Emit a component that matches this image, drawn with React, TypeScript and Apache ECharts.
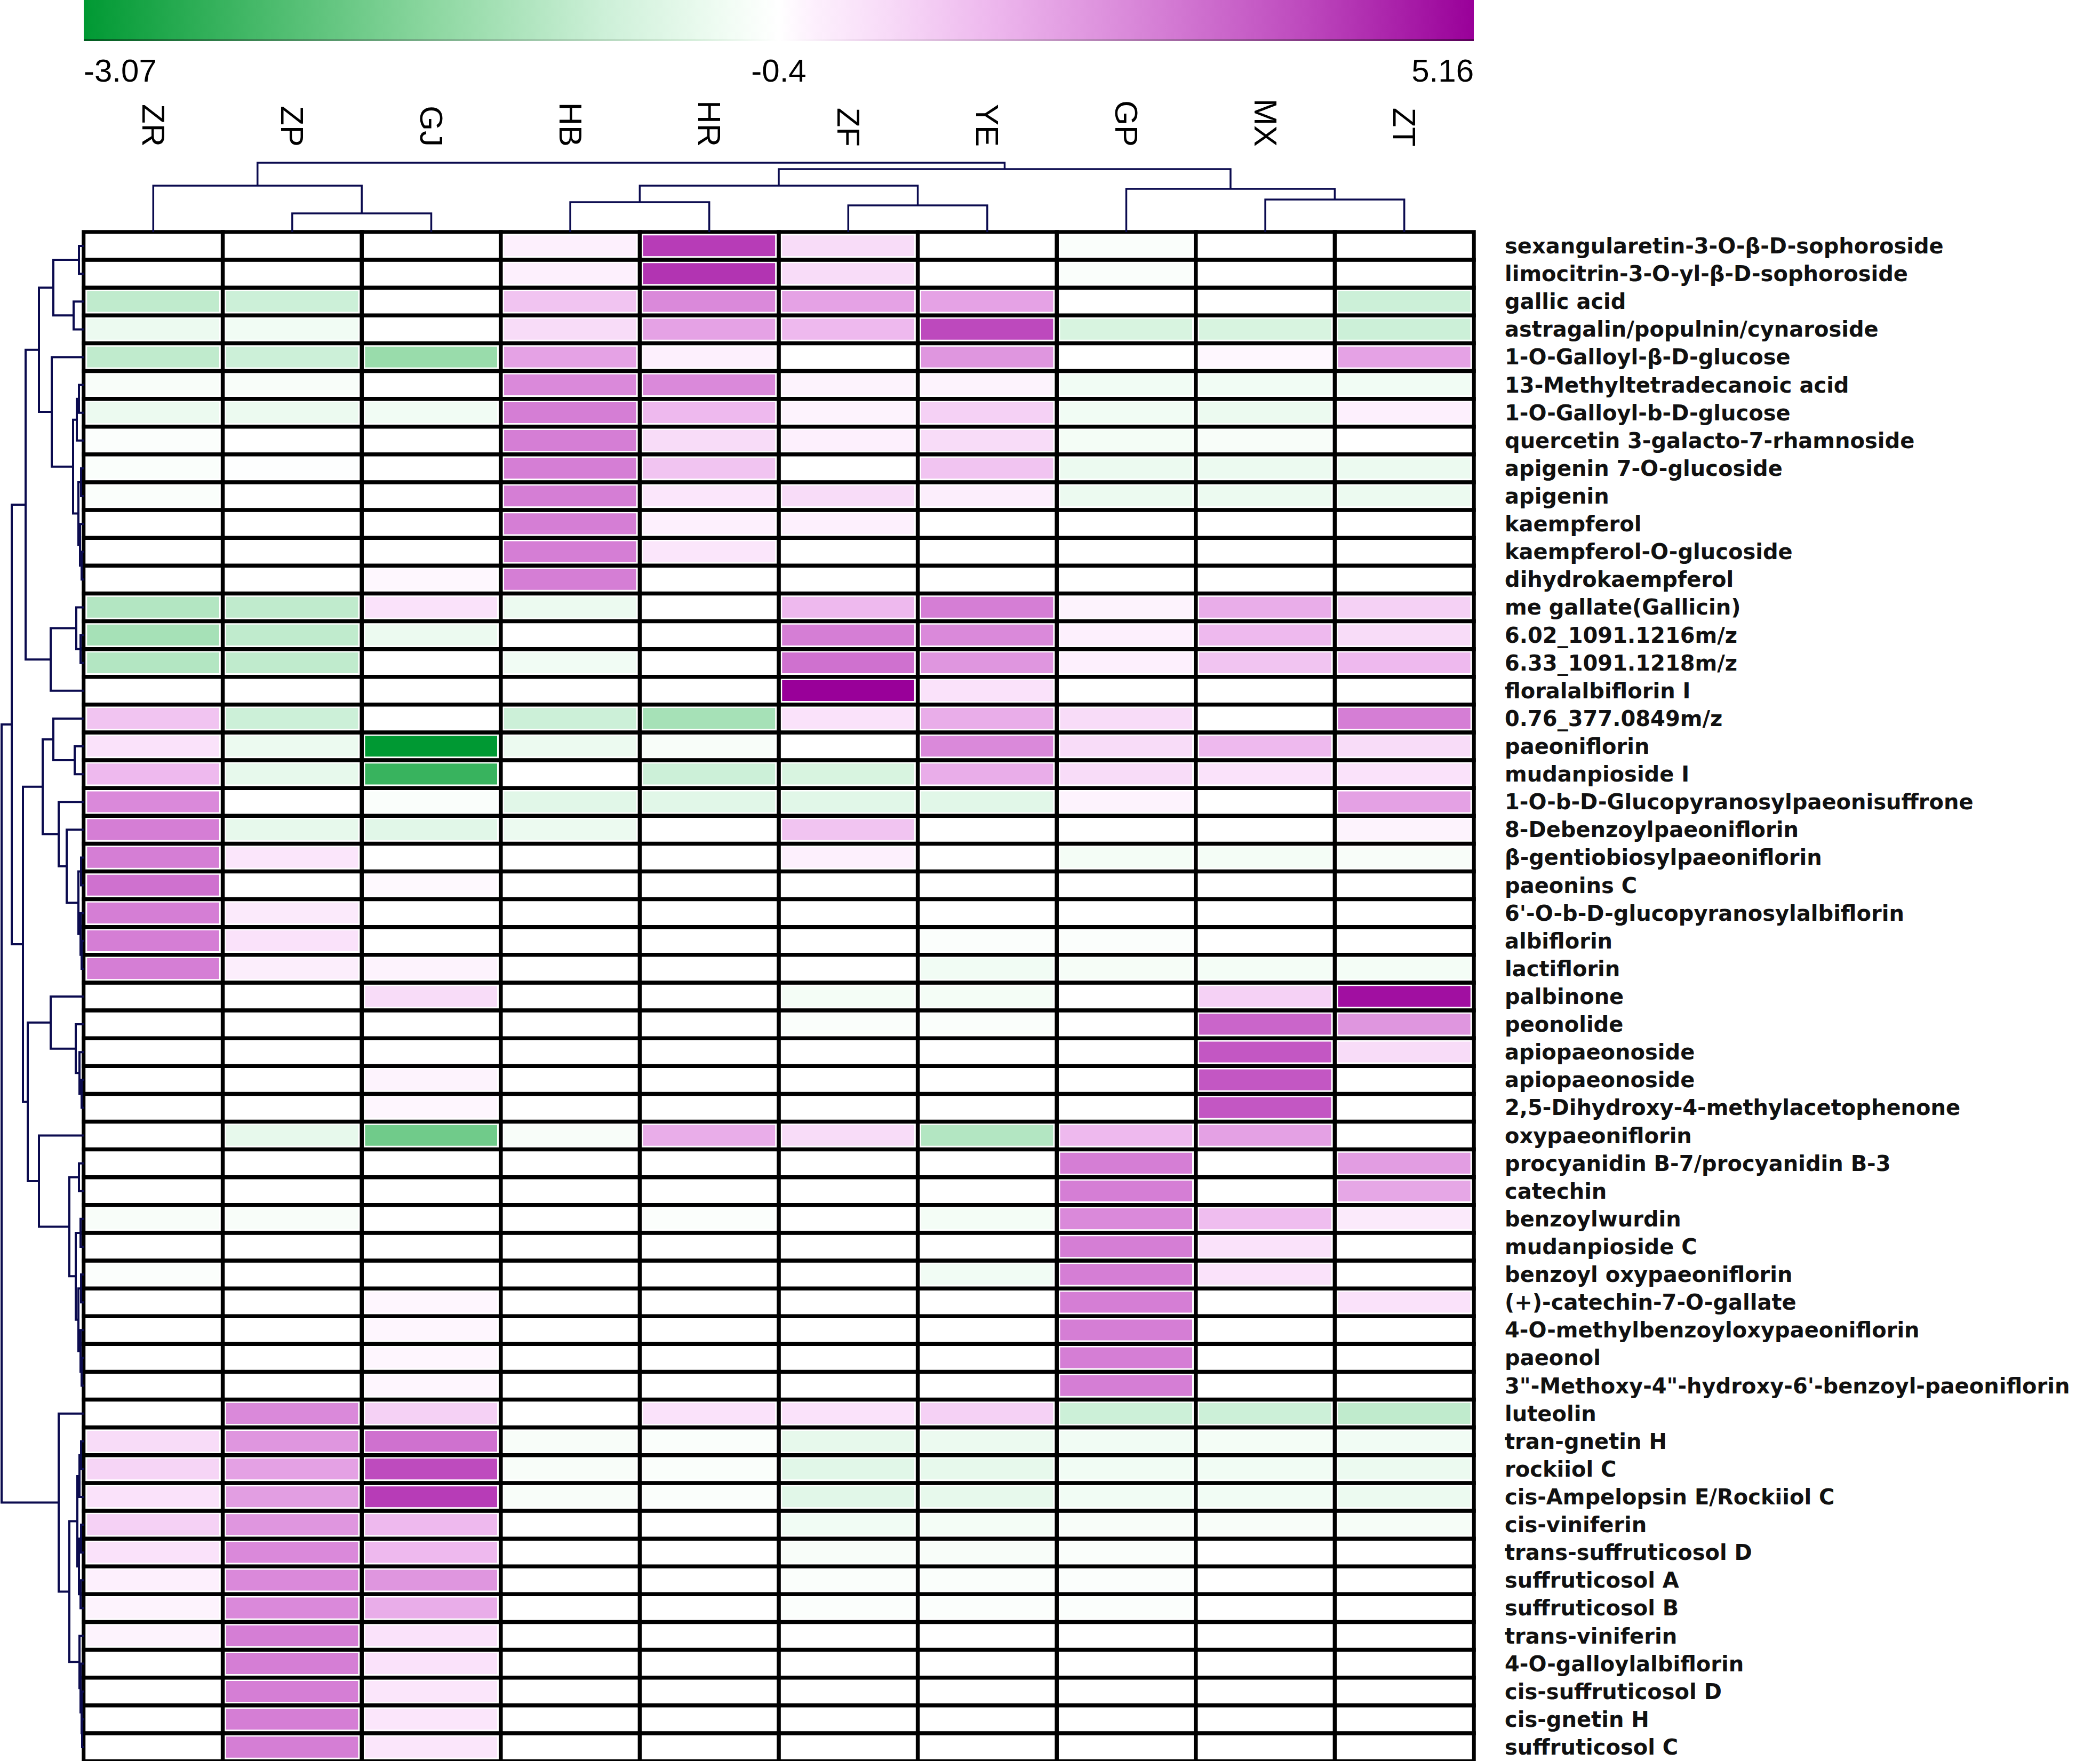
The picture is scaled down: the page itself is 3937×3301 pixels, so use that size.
import React, { useEffect, useRef } from "react";
import * as echarts from "echarts";

// ---------------- data ----------------
const samples = ["ZR", "ZP", "GJ", "HB", "HR", "ZF", "YE", "GP", "MX", "ZT"];

const compounds = [
  "sexangularetin-3-O-β-D-sophoroside",
  "limocitrin-3-O-yl-β-D-sophoroside",
  "gallic acid",
  "astragalin/populnin/cynaroside",
  "1-O-Galloyl-β-D-glucose",
  "13-Methyltetradecanoic acid",
  "1-O-Galloyl-b-D-glucose",
  "quercetin 3-galacto-7-rhamnoside",
  "apigenin 7-O-glucoside",
  "apigenin",
  "kaempferol",
  "kaempferol-O-glucoside",
  "dihydrokaempferol",
  "me gallate(Gallicin)",
  "6.02_1091.1216m/z",
  "6.33_1091.1218m/z",
  "floralalbiflorin I",
  "0.76_377.0849m/z",
  "paeoniflorin",
  "mudanpioside I",
  "1-O-b-D-Glucopyranosylpaeonisuffrone",
  "8-Debenzoylpaeoniflorin",
  "β-gentiobiosylpaeoniflorin",
  "paeonins C",
  "6'-O-b-D-glucopyranosylalbiflorin",
  "albiflorin",
  "lactiflorin",
  "palbinone",
  "peonolide",
  "apiopaeonoside",
  "apiopaeonoside",
  "2,5-Dihydroxy-4-methylacetophenone",
  "oxypaeoniflorin",
  "procyanidin B-7/procyanidin B-3",
  "catechin",
  "benzoylwurdin",
  "mudanpioside C",
  "benzoyl oxypaeoniflorin",
  "(+)-catechin-7-O-gallate",
  "4-O-methylbenzoyloxypaeoniflorin",
  "paeonol",
  "3\"-Methoxy-4\"-hydroxy-6'-benzoyl-paeoniflorin",
  "luteolin",
  "tran-gnetin H",
  "rockiiol C",
  "cis-Ampelopsin E/Rockiiol C",
  "cis-viniferin",
  "trans-suffruticosol D",
  "suffruticosol A",
  "suffruticosol B",
  "trans-viniferin",
  "4-O-galloylalbiflorin",
  "cis-suffruticosol D",
  "cis-gnetin H",
  "suffruticosol C",
];

const ZR = [
  -0.4, -0.4, -1.2, -0.67, -1.2, -0.5, -0.67, -0.45, -0.48, -0.48,
  -0.4, -0.4, -0.4, -1.33, -1.47, -1.33, -0.4, 1.0, 0.27, 1.27,
  2.4, 2.66, 2.66, 2.94, 2.66, 2.66, 2.66, -0.4, -0.4, -0.4,
  -0.4, -0.4, -0.4, -0.4, -0.4, -0.5, -0.4, -0.45, -0.4, -0.4,
  -0.4, -0.4, -0.4, 0.43, 0.6, 0.27, 0.7, 0.27, -0.12, -0.18,
  -0.18, -0.4, -0.4, -0.4, -0.4,
];
const ZP = [
  -0.4, -0.4, -1.07, -0.6, -1.07, -0.5, -0.67, -0.4, -0.42, -0.4,
  -0.4, -0.4, -0.4, -1.2, -1.2, -1.2, -0.4, -1.07, -0.67, -0.72,
  -0.4, -0.72, 0.16, -0.4, 0.05, 0.27, -0.07, -0.4, -0.4, -0.4,
  -0.4, -0.4, -0.72, -0.4, -0.4, -0.5, -0.4, -0.4, -0.4, -0.4,
  -0.4, -0.4, 2.4, 2.1, 1.82, 1.9, 2.1, 2.4, 2.4, 2.4,
  2.66, 2.66, 2.66, 2.66, 2.66,
];
const GJ = [
  -0.4, -0.4, -0.4, -0.4, -1.6, -0.4, -0.6, -0.4, -0.4, -0.4,
  -0.4, -0.4, -0.25, 0.27, -0.67, -0.4, -0.4, -0.4, -3.07, -2.54,
  -0.48, -0.8, -0.4, -0.3, -0.4, -0.4, -0.18, 0.43, -0.4, -0.4,
  -0.18, -0.23, -2.0, -0.4, -0.4, -0.4, -0.4, -0.4, -0.23, -0.23,
  -0.23, -0.23, 0.7, 2.94, 3.77, 4.05, 1.27, 1.27, 2.1, 1.55,
  0.27, 0.27, 0.16, 0.16, 0.16,
];
const HB = [
  -0.12, -0.12, 1.0, 0.43, 1.8, 2.4, 2.66, 2.66, 2.66, 2.66,
  2.66, 2.66, 2.66, -0.67, -0.4, -0.6, -0.4, -1.07, -0.67, -0.4,
  -0.8, -0.67, -0.4, -0.4, -0.4, -0.4, -0.4, -0.4, -0.4, -0.4,
  -0.4, -0.4, -0.5, -0.4, -0.4, -0.4, -0.4, -0.4, -0.4, -0.4,
  -0.4, -0.4, -0.4, -0.5, -0.5, -0.5, -0.4, -0.4, -0.4, -0.4,
  -0.4, -0.4, -0.4, -0.4, -0.4,
];
const HR = [
  4.05, 4.2, 2.4, 1.8, -0.12, 2.4, 1.27, 0.43, 1.0, 0.16,
  -0.12, 0.16, -0.4, -0.4, -0.4, -0.4, -0.4, -1.47, -0.5, -1.07,
  -0.8, -0.4, -0.4, -0.4, -0.4, -0.4, -0.4, -0.4, -0.4, -0.4,
  -0.4, -0.4, 1.55, -0.4, -0.4, -0.45, -0.4, -0.4, -0.4, -0.4,
  -0.4, -0.4, 0.27, -0.48, -0.48, -0.48, -0.4, -0.4, -0.4, -0.4,
  -0.4, -0.4, -0.4, -0.4, -0.4,
];
const ZF = [
  0.43, 0.43, 1.8, 1.27, -0.4, -0.18, -0.18, -0.12, -0.4, 0.43,
  -0.12, -0.4, -0.4, 1.27, 2.66, 2.94, 5.16, 0.27, -0.4, -0.93,
  -0.8, 1.0, -0.12, -0.4, -0.4, -0.4, -0.4, -0.56, -0.48, -0.4,
  -0.4, -0.4, 0.43, -0.4, -0.4, -0.4, -0.4, -0.4, -0.4, -0.4,
  -0.4, -0.4, 0.27, -0.72, -0.8, -0.8, -0.6, -0.5, -0.48, -0.45,
  -0.4, -0.4, -0.4, -0.4, -0.4,
];
const YE = [
  -0.4, -0.4, 1.8, 3.8, 2.1, -0.18, 0.7, 0.43, 1.0, -0.07,
  -0.4, -0.4, -0.4, 2.66, 2.4, 2.1, 0.27, 1.55, 2.4, 1.55,
  -0.8, -0.4, -0.4, -0.4, -0.4, -0.45, -0.6, -0.56, -0.48, -0.4,
  -0.4, -0.4, -1.33, -0.4, -0.4, -0.56, -0.4, -0.6, -0.4, -0.4,
  -0.4, -0.4, 0.7, -0.67, -0.72, -0.72, -0.56, -0.5, -0.48, -0.45,
  -0.4, -0.4, -0.4, -0.4, -0.4,
];
const GP = [
  -0.48, -0.48, -0.4, -0.93, -0.4, -0.6, -0.6, -0.56, -0.67, -0.67,
  -0.4, -0.4, -0.4, -0.18, -0.12, -0.12, -0.4, 0.43, 0.43, 0.43,
  -0.18, -0.4, -0.56, -0.4, -0.4, -0.45, -0.53, -0.4, -0.4, -0.4,
  -0.4, -0.4, 1.27, 2.66, 2.66, 2.4, 2.66, 2.66, 2.66, 2.66,
  2.66, 2.66, -1.07, -0.6, -0.6, -0.6, -0.5, -0.48, -0.45, -0.45,
  -0.4, -0.4, -0.4, -0.4, -0.4,
];
const MX = [
  -0.4, -0.4, -0.4, -0.93, -0.25, -0.6, -0.67, -0.5, -0.67, -0.67,
  -0.4, -0.4, -0.4, 1.55, 1.27, 1.0, -0.4, -0.4, 1.27, 0.27,
  -0.4, -0.4, -0.56, -0.4, -0.4, -0.4, -0.56, 0.7, 3.2, 3.5,
  3.5, 3.5, 1.82, -0.4, -0.4, 1.16, 0.27, 0.27, -0.4, -0.4,
  -0.4, -0.4, -1.07, -0.56, -0.6, -0.6, -0.5, -0.4, -0.4, -0.4,
  -0.4, -0.4, -0.4, -0.4, -0.4,
];
const ZT = [
  -0.4, -0.4, -1.07, -1.07, 1.8, -0.6, -0.12, -0.4, -0.67, -0.67,
  -0.4, -0.4, -0.4, 0.7, 0.43, 1.27, -0.4, 2.66, 0.43, 0.27,
  1.82, -0.18, -0.5, -0.4, -0.4, -0.4, -0.56, 4.88, 2.1, 0.43,
  -0.4, -0.4, -0.4, 1.93, 1.7, 0.04, -0.4, -0.4, 0.27, -0.4,
  -0.4, -0.4, -1.2, -0.6, -0.67, -0.67, -0.53, -0.4, -0.4, -0.4,
  -0.4, -0.4, -0.4, -0.4, -0.4,
];
const sampleValues = [ZR, ZP, GJ, HB, HR, ZF, YE, GP, MX, ZT];

const scaleMin = -3.07;
const scaleMid = -0.4;
const scaleMax = 5.16;
const scaleLabels = ["-3.07", "-0.4", "5.16"];

// dendrograms: [merge height, left, right]; leaves are indices
type Tree = number | [number, Tree, Tree];
const sampleTree: Tree = [130, [87, 0, [35, 1, 2]], [118, [87, [56, 3, 4], [50, 5, 6]], [81, 7, [61, 8, 9]]]];
const compoundTree: Tree = [154,
  [135,
    [109,
      [84,
        [57, [9, 0, 1], [19, 2, 3]],
        [60, 4, [20, [13, [9, 5, 6], 7], [10, [5, 8, 9], [7, 10, [4, 11, 12]]]]]],
      [62, [14, 13, [6, 14, 15]], 16]],
    [114,
      [77,
        [57, 17, [17, 18, 19]],
        [47, 20, [32, 21, [10, [5, 22, 23], [6, 24, [4, 25, 26]]]]]],
      [105,
        [62, 27, [15, 28, [8, 29, [4, 30, 31]]]],
        [84, 32, [27, [9, 33, 34], [15, [6, 35, 36], [10, [5, 37, 38], [6, 39, [4, 40, 41]]]]]]]]],
  [47, 42, [27, [12, [8, [5, 43, 44], 45], [9, [5, 46, 47], [6, 48, 49]]], [8, 50, [6, 51, [4, 52, [3, 53, 54]]]]]]];

// ---------------- style ----------------
const PAGE_W = 3937;
const PAGE_H = 3301;
const HM_LEFT = 157;
const HM_TOP = 435;
const HM_W = 2606;
const HM_H = 2866;
const COL_DENDRO_TOP = 290;
const ROW_DENDRO_MAX = 157;
const COL_DENDRO_MAX = 145;
const LINE_COLOR = "#0b0b4f";

const greenStops: [number, number[]][] = [
  [0, [255, 255, 255]], [0.08, [240, 252, 243]], [0.25, [205, 240, 216]],
  [0.5, [140, 215, 160]], [0.75, [70, 185, 105]], [1, [0, 153, 51]],
];
const purpleStops: [number, number[]][] = [
  [0, [255, 255, 255]], [0.05, [253, 240, 253]], [0.15, [248, 220, 248]],
  [0.3, [238, 185, 238]], [0.5, [218, 138, 218]], [0.75, [190, 75, 190]], [1, [153, 0, 153]],
];

function interp(stops: [number, number[]][], t: number): string {
  t = Math.max(0, Math.min(1, t));
  for (let i = 1; i < stops.length; i++) {
    if (t <= stops[i][0]) {
      const [t0, c0] = stops[i - 1];
      const [t1, c1] = stops[i];
      const f = (t - t0) / (t1 - t0);
      const c = c0.map((v, k) => Math.round(v + (c1[k] - v) * f));
      return `rgb(${c[0]},${c[1]},${c[2]})`;
    }
  }
  const c = stops[stops.length - 1][1];
  return `rgb(${c[0]},${c[1]},${c[2]})`;
}

function colorFor(v: number): string {
  if (v <= scaleMid) return interp(greenStops, (scaleMid - v) / (scaleMid - scaleMin));
  return interp(purpleStops, (v - scaleMid) / (scaleMax - scaleMid));
}

function layoutTree(node: Tree, segs: number[][][]): [number, number] {
  if (typeof node === "number") return [node + 0.5, 0];
  const [h, l, r] = node;
  const [pl, hl] = layoutTree(l, segs);
  const [pr, hr] = layoutTree(r, segs);
  segs.push([[pl, hl], [pl, h], [pr, h], [pr, hr]]);
  return [(pl + pr) / 2, h];
}

export default function App() {
  const ref = useRef<HTMLDivElement>(null);

  useEffect(() => {
    if (!ref.current) return;
    const chart = echarts.init(ref.current, undefined, { renderer: "svg" });

    const heatData: number[][] = [];
    sampleValues.forEach((col, c) => col.forEach((v, r) => heatData.push([c, r, v])));

    const steps = 200;
    const vmColors: string[] = [];
    for (let k = 0; k <= steps; k++) vmColors.push(colorFor(scaleMin + ((scaleMax - scaleMin) * k) / steps));

    const colSegs: number[][][] = [];
    layoutTree(sampleTree, colSegs);
    const rowSegsRaw: number[][][] = [];
    layoutTree(compoundTree, rowSegsRaw);
    const rowSegs = rowSegsRaw.map((s) => s.map(([p, h]) => [h, p]));

    const barStops: { offset: number; color: string }[] = [];
    [...greenStops].reverse().forEach(([t]) => barStops.push({ offset: 0.5 * (1 - t), color: interp(greenStops, t) }));
    purpleStops.slice(1).forEach(([t]) => barStops.push({ offset: 0.5 + 0.5 * t, color: interp(purpleStops, t) }));

    const labelFont = "Liberation Sans";
    const BAR_W = HM_W;

    chart.setOption({
      animation: false,
      backgroundColor: "#ffffff",
      grid: [
        { left: HM_LEFT, top: HM_TOP, width: HM_W, height: HM_H },
        { left: HM_LEFT, top: COL_DENDRO_TOP, width: HM_W, height: HM_TOP - COL_DENDRO_TOP },
        { left: 0, top: HM_TOP, width: HM_LEFT, height: HM_H },
      ],
      xAxis: [
        {
          type: "category", gridIndex: 0, data: samples, position: "top",
          axisLine: { show: false }, axisTick: { show: false }, splitLine: { show: false },
          axisLabel: { interval: 0, rotate: 90, margin: 160, fontSize: 60, fontFamily: labelFont, color: "#000" },
        },
        { type: "value", gridIndex: 1, min: 0, max: samples.length, show: false },
        { type: "value", gridIndex: 2, min: 0, max: ROW_DENDRO_MAX, inverse: true, show: false },
      ],
      yAxis: [
        {
          type: "category", gridIndex: 0, data: compounds.map((_, i) => String(i)), inverse: true, position: "right",
          axisLine: { show: false }, axisTick: { show: false }, splitLine: { show: false },
          axisLabel: {
            interval: 0, margin: 58, fontSize: 40, fontWeight: "bold", fontFamily: "DejaVu Sans", color: "#111",
            formatter: (_v: string, i: number) => compounds[i],
          },
        },
        { type: "value", gridIndex: 1, min: 0, max: COL_DENDRO_MAX, show: false },
        { type: "value", gridIndex: 2, min: 0, max: compounds.length, inverse: true, show: false },
      ],
      visualMap: [
        {
          type: "continuous", show: false, min: scaleMin, max: scaleMax, dimension: 2, seriesIndex: 0,
          inRange: { color: vmColors },
        },
        {
          type: "continuous", show: false, min: scaleMin, max: scaleMax, dimension: 2, seriesIndex: 1,
          inRange: { color: ["rgba(0,0,0,0)", "rgba(0,0,0,0)"] },
        },
      ],
      series: [
        {
          type: "heatmap", xAxisIndex: 0, yAxisIndex: 0, data: heatData, silent: true,
          itemStyle: { borderColor: "#ffffff", borderWidth: 13 },
          emphasis: { disabled: true },
        },
        {
          type: "heatmap", xAxisIndex: 0, yAxisIndex: 0, data: heatData, silent: true,
          itemStyle: { borderColor: "#000000", borderWidth: 7 },
          emphasis: { disabled: true },
        },
        {
          type: "lines", coordinateSystem: "cartesian2d", xAxisIndex: 1, yAxisIndex: 1, polyline: true, silent: true,
          lineStyle: { color: LINE_COLOR, width: 3.5, opacity: 1 },
          data: colSegs.map((s) => ({ coords: s })),
        },
        {
          type: "lines", coordinateSystem: "cartesian2d", xAxisIndex: 2, yAxisIndex: 2, polyline: true, silent: true,
          lineStyle: { color: LINE_COLOR, width: 4, opacity: 1 },
          data: rowSegs.map((s) => ({ coords: s })),
        },
      ],
      graphic: [
        {
          type: "rect", left: HM_LEFT, top: 0, silent: true,
          shape: { x: 0, y: 0, width: BAR_W, height: 76 },
          style: { fill: new echarts.graphic.LinearGradient(0, 0, 1, 0, barStops) },
        },
        {
          type: "rect", left: HM_LEFT, top: 73, silent: true,
          shape: { x: 0, y: 0, width: BAR_W, height: 4 },
          style: {
            fill: new echarts.graphic.LinearGradient(0, 0, 1, 0, [
              { offset: 0, color: "#005c1f" }, { offset: 0.44, color: "#d6eedb" },
              { offset: 0.5, color: "#ffffff" }, { offset: 0.56, color: "#eed6ee" }, { offset: 1, color: "#5c005c" },
            ]),
          },
        },
        {
          type: "text", x: HM_LEFT, y: 132, silent: true,
          style: { text: scaleLabels[0], fontSize: 60, fontFamily: labelFont, fill: "#000", align: "left", textAlign: "left", verticalAlign: "middle", textVerticalAlign: "middle" },
        },
        {
          type: "text", x: HM_LEFT + BAR_W / 2, y: 132, silent: true,
          style: { text: scaleLabels[1], fontSize: 60, fontFamily: labelFont, fill: "#000", align: "center", textAlign: "center", verticalAlign: "middle", textVerticalAlign: "middle" },
        },
        {
          type: "text", x: HM_LEFT + BAR_W, y: 132, silent: true,
          style: { text: scaleLabels[2], fontSize: 60, fontFamily: labelFont, fill: "#000", align: "right", textAlign: "right", verticalAlign: "middle", textVerticalAlign: "middle" },
        },
      ],
    });

    return () => chart.dispose();
  }, []);

  return (
    <div
      ref={ref}
      style={{ position: "absolute", left: 0, top: 0, width: PAGE_W, height: PAGE_H, background: "#fff" }}
    />
  );
}
